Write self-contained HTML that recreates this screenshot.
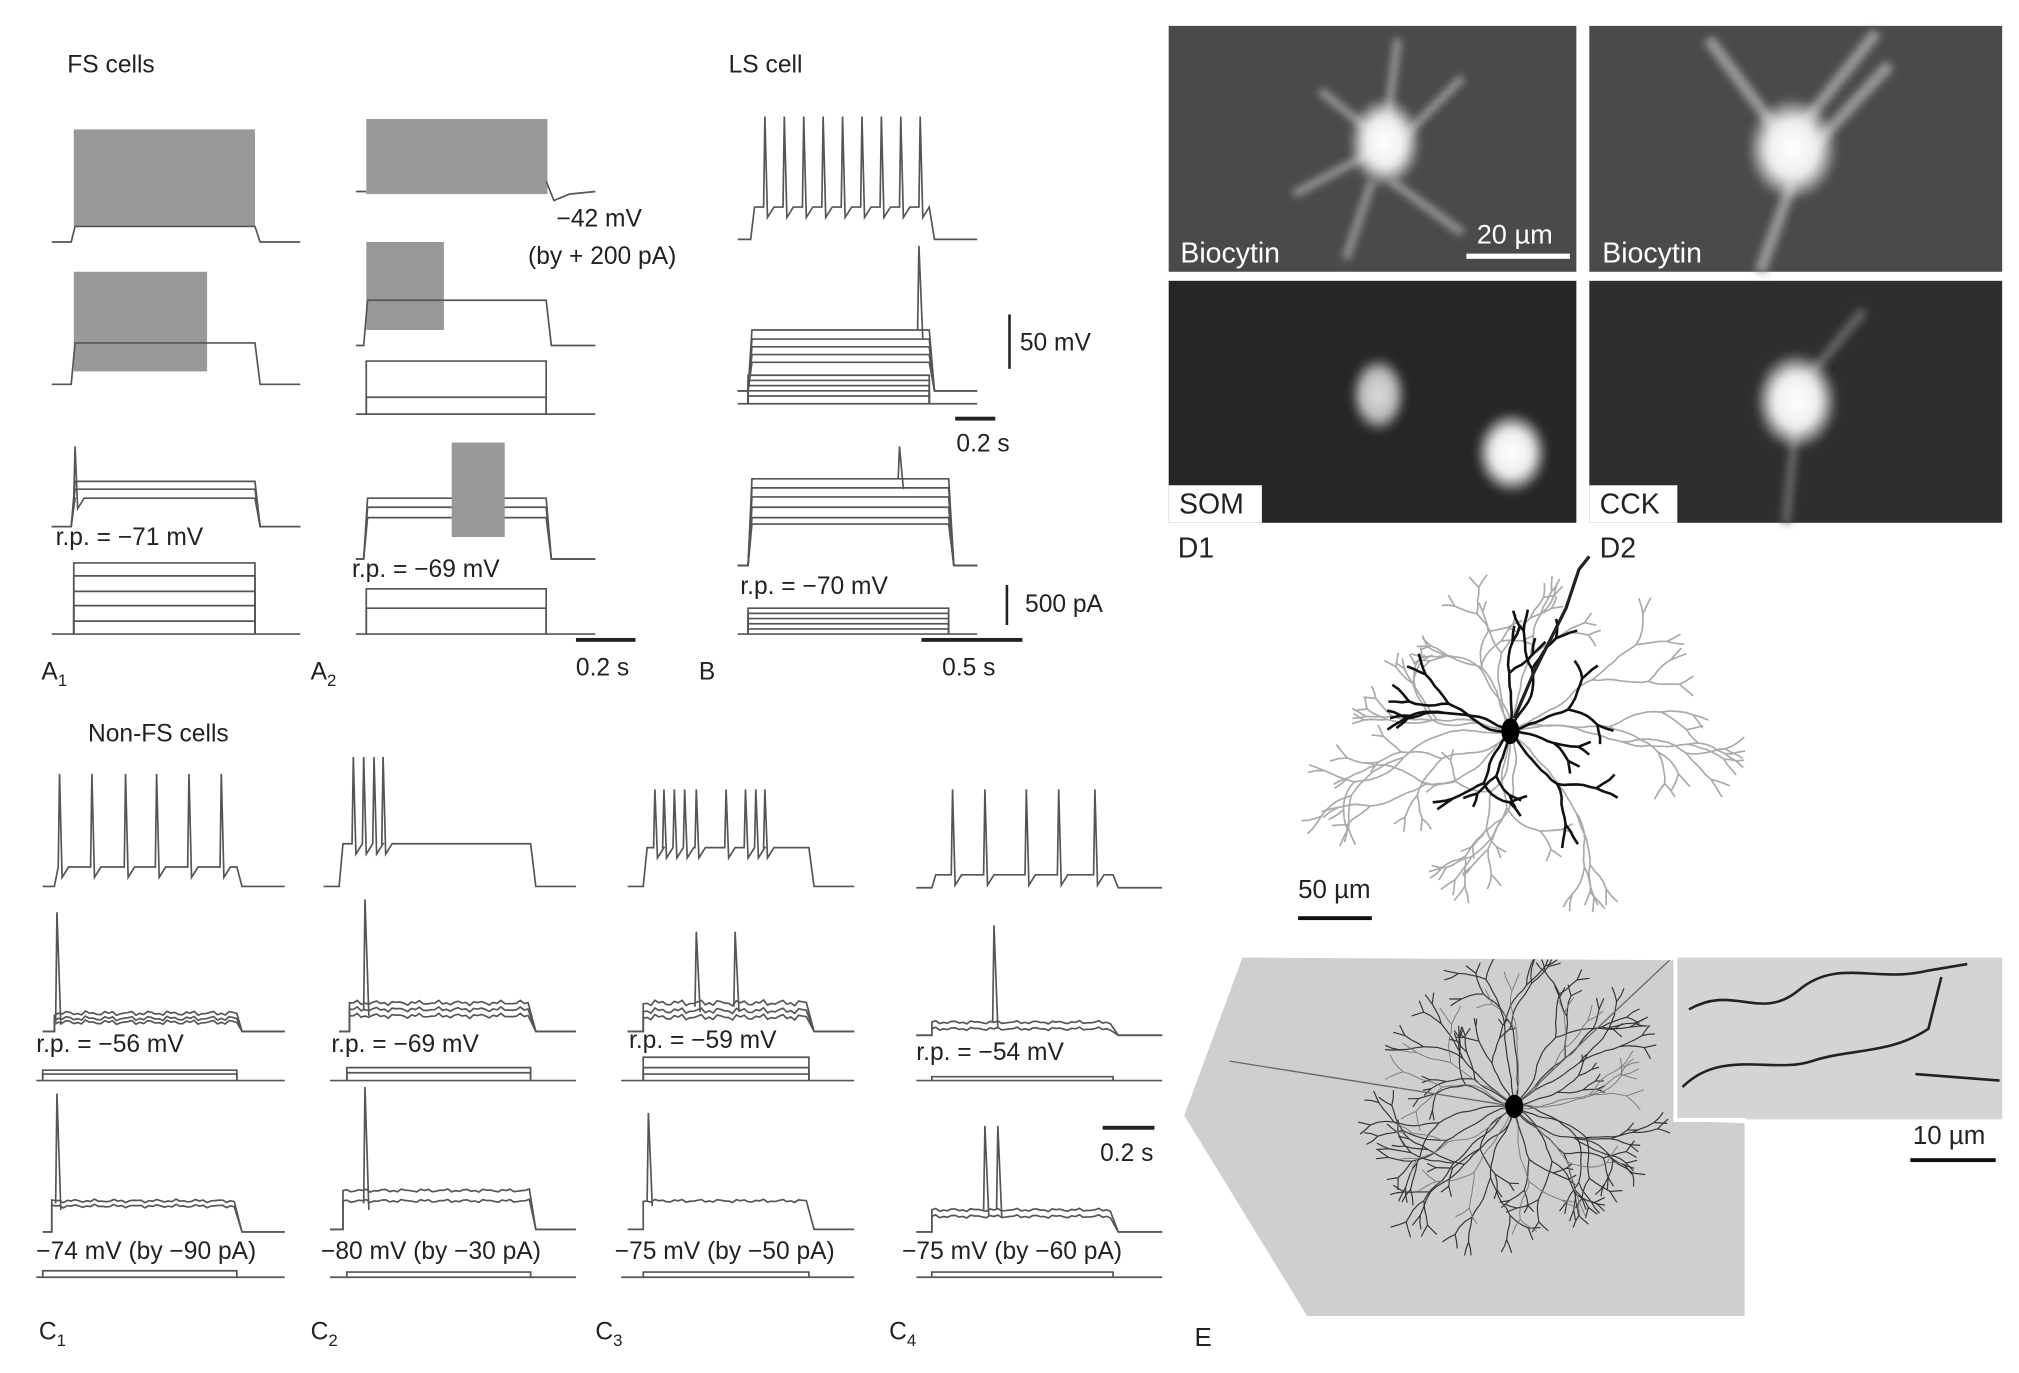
<!DOCTYPE html>
<html><head><meta charset="utf-8"><style>
html,body{margin:0;padding:0;background:#fff}
svg{display:block}
text{font-family:"Liberation Sans",sans-serif;fill:#222}
</style></head><body>
<svg id="s" width="2019" height="1373" viewBox="0 0 1560 1061" preserveAspectRatio="none" xmlns="http://www.w3.org/2000/svg">
<defs>
<radialGradient id="cell" cx="50%" cy="50%" r="50%"><stop offset="0" stop-color="#fff"/><stop offset="0.55" stop-color="#eee"/><stop offset="1" stop-color="#eee" stop-opacity="0"/></radialGradient>
<radialGradient id="cell2" cx="50%" cy="50%" r="50%"><stop offset="0" stop-color="#ddd"/><stop offset="0.6" stop-color="#bbb"/><stop offset="1" stop-color="#999" stop-opacity="0"/></radialGradient>
<filter id="bl"><feGaussianBlur stdDeviation="3"/></filter>
<clipPath id="ec"><polygon points="960,740 1293,742 1293,866 1348,868 1348,1017 1010,1017 915,862"/></clipPath>
</defs>
<rect x="903" y="20" width="315" height="190" fill="#4a4a4a"/>
<rect x="1228" y="20" width="319" height="190" fill="#4a4a4a"/>
<rect x="903" y="217" width="315" height="187" fill="#262626"/>
<rect x="1228" y="217" width="319" height="187" fill="#2e2e2e"/>
<g filter="url(#bl)" stroke="#999" fill="none" stroke-width="6">
<path d="M1070 110 L1020 70 M1070 110 L1080 30 M1065 115 L1000 150 M1070 120 L1130 60 M1060 140 L1040 200 M1075 140 L1130 180"/>
<path d="M1380 110 L1320 30 M1390 100 L1450 25 M1385 140 L1360 210 M1395 120 L1460 50" stroke-width="9"/>
<path d="M1390 300 L1380 404 M1390 300 L1440 240" stroke-width="7" stroke="#666"/>
</g>
<ellipse cx="1070" cy="110" rx="28" ry="35" fill="url(#cell)" filter="url(#bl)"/>
<ellipse cx="1385" cy="115" rx="35" ry="40" fill="url(#cell)" filter="url(#bl)"/>
<ellipse cx="1065" cy="305" rx="22" ry="30" fill="url(#cell2)" filter="url(#bl)"/>
<ellipse cx="1168" cy="350" rx="28" ry="32" fill="url(#cell)" filter="url(#bl)"/>
<ellipse cx="1388" cy="310" rx="32" ry="38" fill="url(#cell)" filter="url(#bl)"/>
<rect x="1133" y="196" width="80" height="4" fill="#fff"/>
<text x="1141" y="188" font-size="21" style="fill:#fff">20 µm</text>
<text x="912" y="203" font-size="22" style="fill:#fff">Biocytin</text>
<text x="1238" y="203" font-size="22" style="fill:#fff">Biocytin</text>
<rect x="903" y="375" width="72" height="29" fill="#fff"/>
<rect x="1228" y="375" width="68" height="29" fill="#fff"/>
<text x="911" y="397" font-size="22">SOM</text>
<text x="1236" y="397" font-size="22">CCK</text>
<text x="910" y="431" font-size="22">D1</text>
<text x="1236" y="431" font-size="22">D2</text>
<polygon points="960,740 1295,742 1295,866 1348,868 1348,1017 1010,1017 915,862" fill="#cfcfcf"/>
<rect x="1295" y="740" width="252" height="125" fill="#d4d4d4"/>
<rect x="1293" y="740" width="3" height="126" fill="#fff"/><rect x="1293" y="864" width="56" height="3" fill="#fff"/>
<g stroke="#222" stroke-width="2" fill="none">
<path d="M1305 780 C1340 760 1360 790 1390 765 S1450 760 1490 750 L1520 745"/>
<path d="M1300 840 C1330 810 1370 830 1400 820 S1460 815 1490 795 L1500 755"/>
<path d="M1480 830 L1545 835"/>
</g>
<rect x="1476" y="895" width="66" height="3" fill="#111"/>
<text x="1478" y="884" font-size="20">10 µm</text>
<text x="923" y="1040" font-size="20">E</text>
<rect x="1003" y="708" width="57" height="3" fill="#111"/>
<text x="1003" y="694" font-size="20">50 µm</text>
<g id="neu"></g>
<g id="neuE" clip-path="url(#ec)"></g>
<g id="tr" fill="none" stroke="#555" stroke-width="1.3"></g>
<g font-size="19">
<text x="52" y="56">FS cells</text>
<text x="563" y="56">LS cell</text>
<text x="68" y="573">Non-FS cells</text>
<text x="430" y="175">−42 mV</text>
<text x="408" y="204">(by + 200 pA)</text>
<text x="43" y="421">r.p. = −71 mV</text>
<text x="272" y="446">r.p. = −69 mV</text>
<text x="572" y="459">r.p. = −70 mV</text>
<text x="788" y="271">50 mV</text>
<text x="739" y="349">0.2 s</text>
<text x="792" y="473">500 pA</text>
<text x="728" y="522">0.5 s</text>
<text x="445" y="522">0.2 s</text>
<text x="32" y="525">A<tspan font-size="13" dy="5">1</tspan></text>
<text x="240" y="525">A<tspan font-size="13" dy="5">2</tspan></text>
<text x="540" y="525">B</text>
<text x="28" y="813">r.p. = −56 mV</text>
<text x="256" y="813">r.p. = −69 mV</text>
<text x="486" y="810">r.p. = −59 mV</text>
<text x="708" y="819">r.p. = −54 mV</text>
<text x="850" y="897">0.2 s</text>
<text x="28" y="973">−74 mV (by −90 pA)</text>
<text x="248" y="973">−80 mV (by −30 pA)</text>
<text x="475" y="973">−75 mV (by −50 pA)</text>
<text x="697" y="973">−75 mV (by −60 pA)</text>
<text x="30" y="1035">C<tspan font-size="13" dy="5">1</tspan></text>
<text x="240" y="1035">C<tspan font-size="13" dy="5">2</tspan></text>
<text x="460" y="1035">C<tspan font-size="13" dy="5">3</tspan></text>
<text x="687" y="1035">C<tspan font-size="13" dy="5">4</tspan></text>
</g>
<g fill="#222">
<rect x="445" y="493" width="46" height="3"/>
<rect x="779" y="243" width="2" height="42"/>
<rect x="738" y="322" width="31" height="3"/>
<rect x="777" y="452" width="2" height="31"/>
<rect x="712" y="493" width="78" height="3"/>
<rect x="852" y="870" width="40" height="3"/>
</g>
</svg>
<script>
var NS="http://www.w3.org/2000/svg",tr=document.getElementById('tr');
function P(d,c,w){var p=document.createElementNS(NS,'path');p.setAttribute('d',d);if(c)p.setAttribute('stroke',c);if(w)p.setAttribute('stroke-width',w);tr.appendChild(p);}
function R(x,y,w,h,c){var r=document.createElementNS(NS,'rect');r.setAttribute('x',x);r.setAttribute('y',y);r.setAttribute('width',w);r.setAttribute('height',h);r.setAttribute('fill',c||'#999');r.setAttribute('stroke','none');tr.appendChild(r);}
function T(x0,xs,xe,x1,base,plat,sp,top,c){var d='M'+x0+' '+base+'L'+xs+' '+base+'L'+(xs+3)+' '+plat;sp=sp||[];sp.sort(function(a,b){return a-b});sp.forEach(function(s){d+='L'+s+' '+plat+'L'+(s+1)+' '+top+'L'+(s+3)+' '+(plat+8)+'L'+(s+8)+' '+plat;});d+='L'+xe+' '+plat+'L'+(xe+4)+' '+base+'L'+x1+' '+base;P(d,c);}
function steps(x0,xs,xe,x1,base,levels){P('M'+x0+' '+base+'L'+x1+' '+base);levels.forEach(function(l){P('M'+xs+' '+base+'L'+xs+' '+l+'L'+xe+' '+l+'L'+xe+' '+base);});}
function rng(n,a,b){var r=[];for(var i=0;i<n;i++)r.push(a+(b-a)*i/(n-1));return r;}
R(57,100,140,75);T(40,55,197,232,187,175,[],175);
R(57,210,103,77);T(40,55,197,232,297,265,[],265);
T(40,55,197,232,407,385,[57],345);T(40,55,197,232,407,378,[],378);T(40,55,197,232,407,372,[],372);
steps(40,57,197,232,490,[435,445,457,468,480]);
R(283,92,140,58);P('M275 148L283 148M422 140L428 155L440 150L460 148');
R(283,187,60,68);T(275,281,422,460,267,232,[],232);
T(275,281,422,460,432,400,[],400);T(275,281,422,460,432,392,[],392);T(275,281,422,460,432,385,[],385);R(349,342,41,73);
steps(275,283,422,460,320,[279,307]);steps(275,283,422,460,490,[455,470]);
T(570,580,718,755,185,160,rng(9,590,710),90);
[255,262,268,274,280].forEach(function(l){T(570,578,718,755,302,l,[],l);});P('M709 255L710 190L713 262');
steps(570,578,718,755,312,[290,294,298,302,306]);
[370,377,384,392,400,405].forEach(function(l){T(570,578,733,755,437,l,[],l);});P('M694 370L695 345L698 378');
steps(570,578,733,755,490,[470,474,478,482,486]);
function noisy(x0,xs,xe,x1,base,plat,amp,c){var d='M'+x0+' '+base+'L'+xs+' '+base;for(var x=xs;x<=xe;x+=3){d+='L'+x+' '+(plat+(Math.sin(x*1.7)+Math.cos(x*0.9))*amp);}d+='L'+(xe+4)+' '+base+'L'+x1+' '+base;P(d,c);}
T(33,42,183,220,685,670,[45,70,96,120,145,170],598);
noisy(33,42,183,220,797,787,1);noisy(33,42,183,220,797,783,1);noisy(33,42,183,220,797,790,1);P('M43 790L44 705L47 792');
steps(28,33,183,220,835,[827,830]);
noisy(33,40,183,220,952,928,0.7);noisy(33,40,183,220,952,932,0.7);P('M43 930L44 845L47 935');
steps(28,33,183,220,987,[982]);
T(250,262,410,445,685,652,[272,280,288,295],585);
noisy(262,270,410,445,797,775,1);noisy(262,270,410,445,797,780,1);noisy(262,270,410,445,797,785,1);P('M281 780L282 695L285 785');
steps(255,268,410,445,835,[825,829]);
noisy(255,265,410,445,950,920,0.7);noisy(255,265,410,445,950,928,0.7);P('M281 930L282 840L285 935');
steps(255,268,410,445,987,[983]);
T(485,497,625,660,685,655,[505,512,520,528,537,560,575,583,590],610);
noisy(485,497,625,660,797,775,1.3);noisy(485,497,625,660,797,781,1.3);noisy(485,497,625,660,797,786,1.3);P('M537 778L538 720L541 782M567 778L568 720L571 782');
steps(480,497,625,660,835,[817,825,830]);
noisy(485,497,625,660,950,928,0.7);P('M500 928L501 860L504 932');
steps(480,497,625,660,987,[983]);
T(708,720,860,898,686,676,[735,760,792,817,845],610);
noisy(708,720,860,898,800,790,0.7);noisy(708,720,860,898,800,795,0.7);P('M767 790L768 715L771 795');
steps(708,720,860,898,835,[832]);
noisy(708,720,860,898,952,935,0.7);noisy(708,720,860,898,952,940,0.7);P('M760 935L761 870L764 940M770 935L771 870L774 940');
steps(708,720,860,898,987,[983]);
var seed=7;function rnd(){seed=(seed*16807)%2147483647;return seed/2147483647;}
function br(x,y,a,len,depth,col,w,g,dec){if(depth<=0||len<3)return;var d='M'+x.toFixed(1)+' '+y.toFixed(1),cx=x,cy=y;var n=Math.max(1,Math.floor(len/5));var st=len/n;for(var i=0;i<n;i++){a+=(rnd()-0.5)*0.5;cx+=Math.cos(a)*st;cy+=Math.sin(a)*st;d+='L'+cx.toFixed(1)+' '+cy.toFixed(1);}
var p=document.createElementNS(NS,'path');p.setAttribute('d',d);p.setAttribute('stroke',col);p.setAttribute('stroke-width',w);p.setAttribute('fill','none');g.appendChild(p);
for(var j=0;j<2;j++)br(cx,cy,a+(j?1:-1)*(0.2+rnd()*0.5),len*(dec+rnd()*0.1),depth-1,col,w,g,dec);}
var neu=document.getElementById('neu');
for(var i=0;i<16;i++){var a=i/16*6.283+rnd()*0.3;var sx=Math.abs(Math.cos(a));br(1167,565,a,(45+rnd()*25)*(0.8+sx*0.5),4,'#aaa',1.3,neu,0.5);}
seed=99;for(var i=0;i<9;i++){var a=i/9*6.283+0.3;br(1167,565,a,35+rnd()*20,3,'#111',2,neu,0.5);}
P('M1170 555L1185 520L1200 490L1210 470L1220 440L1228 430','#222',2.5);
var c=document.createElementNS(NS,'ellipse');c.setAttribute('cx',1167);c.setAttribute('cy',565);c.setAttribute('rx',7);c.setAttribute('ry',10);neu.appendChild(c);
var ge=document.getElementById('neuE');seed=31;
for(var i=0;i<22;i++){var a=i/22*6.283;br(1170,855,a,35+rnd()*30,4,'#333',0.9,ge,0.5);}
for(var i=0;i<10;i++){var a=i/10*6.283+0.2;br(1170,855,a,60,3,'#777',0.7,ge,0.45);}
var p2=document.createElementNS(NS,'path');p2.setAttribute('d','M1290 742 L1170 855 L950 820');p2.setAttribute('stroke','#666');p2.setAttribute('fill','none');ge.appendChild(p2);
var c2=document.createElementNS(NS,'ellipse');c2.setAttribute('cx',1170);c2.setAttribute('cy',855);c2.setAttribute('rx',7);c2.setAttribute('ry',9);ge.appendChild(c2);
</script>
</body></html>
